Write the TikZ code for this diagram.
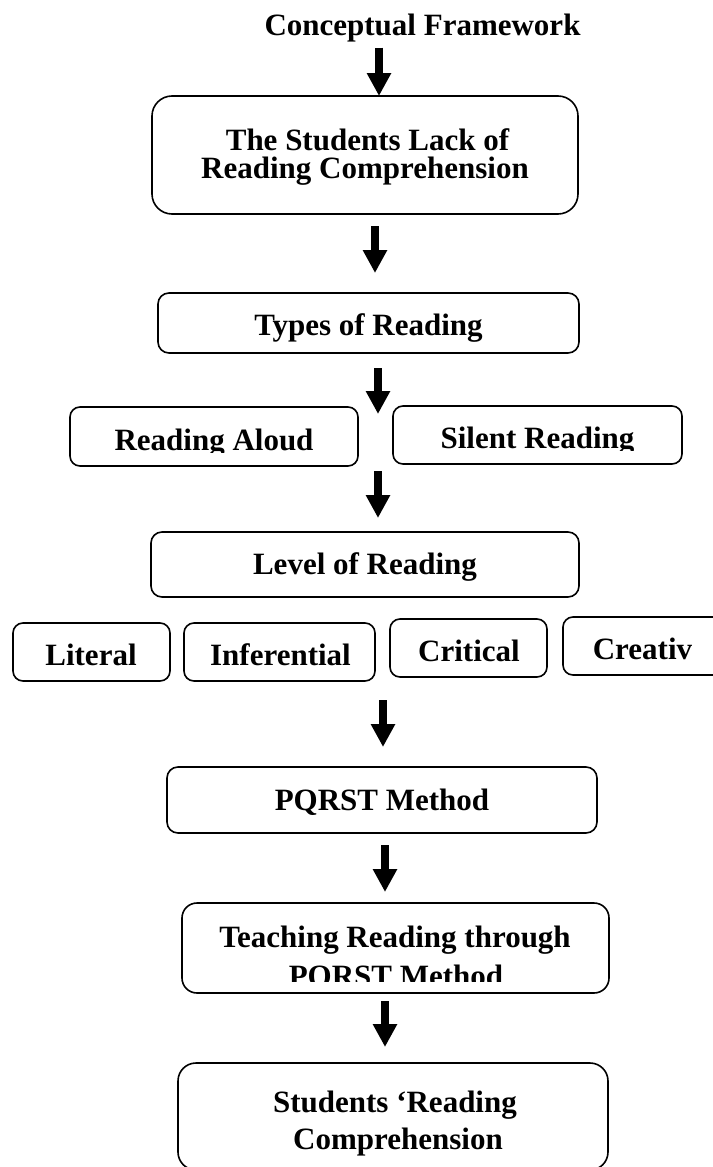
\documentclass[tikz,border=0pt]{standalone}
\usepackage{fontspec}
\setmainfont{Liberation Serif}
\usetikzlibrary{arrows.meta}
\begin{document}
\begin{tikzpicture}[x=1pt,y=-1pt,
  box/.style={draw, line width=1.6pt, inner sep=0pt, outer sep=0pt},
  txt/.style={font=\fontsize{31}{31}\selectfont\bfseries, inner sep=0pt, outer sep=0pt, anchor=base},
  arr/.style={line width=8pt, -{Triangle[width=23pt,length=23pt]}},
]
\useasboundingbox (0,0) rectangle (712,1167);

% title
\node[txt] (title) at (422.5,35) {Conceptual Framework};

% boxes
\node[box, minimum width=426pt, minimum height=118pt, rounded corners=20pt] (b1) at (365,155) {};
\node[txt] (t1a) at (367.5,150) {The Students Lack of};
\node[txt] (t1b) at (365,178) {Reading Comprehension};

\node[box, minimum width=421pt, minimum height=60pt, rounded corners=11pt] (b2) at (368.5,323) {};
\node[txt] (t2) at (368.5,335) {Types of Reading};

\node[box, minimum width=288pt, minimum height=59pt, rounded corners=10pt] (ra) at (214,436.5) {};
\begin{scope}
  \clip (60,400) rectangle (370,452);
  \node[txt] (tra) at (214,450) {Reading Aloud};
\end{scope}

\node[box, minimum width=289pt, minimum height=58pt, rounded corners=10pt] (sr) at (537.5,435) {};
\begin{scope}
  \clip (385,400) rectangle (690,450);
  \node[txt] (tsr) at (537.5,448) {Silent Reading};
\end{scope}

\node[box, minimum width=428pt, minimum height=65pt, rounded corners=11pt] (lv) at (365,564.5) {};
\node[txt] (tlv) at (365,574) {Level of Reading};

\node[box, minimum width=157pt, minimum height=58pt, rounded corners=10pt] (lit) at (91.5,652) {};
\node[txt] (tlit) at (91,665) {Literal};
\node[box, minimum width=191pt, minimum height=58pt, rounded corners=10pt] (inf) at (279.5,652) {};
\node[txt] (tinf) at (280.5,665) {Inferential};
\node[box, minimum width=157pt, minimum height=58pt, rounded corners=10pt] (cri) at (468.5,648) {};
\node[txt] (tcri) at (469,661) {Critical};
\node[box, minimum width=177pt, minimum height=58pt, rounded corners=10pt] (cre) at (651.5,646) {};
\node[txt] (tcre) at (642.5,659) {Creativ};

\node[box, minimum width=430pt, minimum height=66pt, rounded corners=11pt] (pq) at (382,800) {};
\node[txt] (tpq) at (382,810) {PQRST Method};

\node[box, minimum width=427pt, minimum height=90pt, rounded corners=15pt] (tq) at (395.5,948) {};
\node[txt] (ttqa) at (395,947) {Teaching Reading through};
\begin{scope}
  \clip (190,955) rectangle (600,981);
  \node[txt] (ttqb) at (396,986) {PQRST Method};
\end{scope}

\node[box, minimum width=430pt, minimum height=107pt, rounded corners=18pt] (st) at (393,1116.5) {};
\node[txt] (tsta) at (395,1112) {Students ‘Reading};
\node[txt] (tstb) at (398,1149) {Comprehension};

% arrow axes
\coordinate (x1) at (379,0);
\coordinate (x2) at (375,0);
\coordinate (x3) at (378,0);
\coordinate (c3) at (378,414);
\coordinate (c4) at (378,471);
\coordinate (c5) at (383,700);
\coordinate (x6) at (385,0);
\coordinate (x7) at (385,0);

\draw[arr, shorten <=6pt] (title.south -| x1) -- (b1.north -| x1);
\draw[arr, shorten <=12pt, shorten >=20pt] (b1.south -| x2) -- (b2.north -| x2);
\draw[arr, shorten <=15pt] (b2.south -| x3) -- (c3);
\draw[arr, shorten >=14pt] (c4) -- (lv.north -| c4);
\draw[arr, shorten >=20pt] (c5) -- (pq.north -| c5);
\draw[arr, shorten <=12pt, shorten >=11pt] (pq.south -| x6) -- (tq.north -| x6);
\draw[arr, shorten <=8pt, shorten >=16pt] (tq.south -| x7) -- (st.north -| x7);
\end{tikzpicture}
\end{document}
